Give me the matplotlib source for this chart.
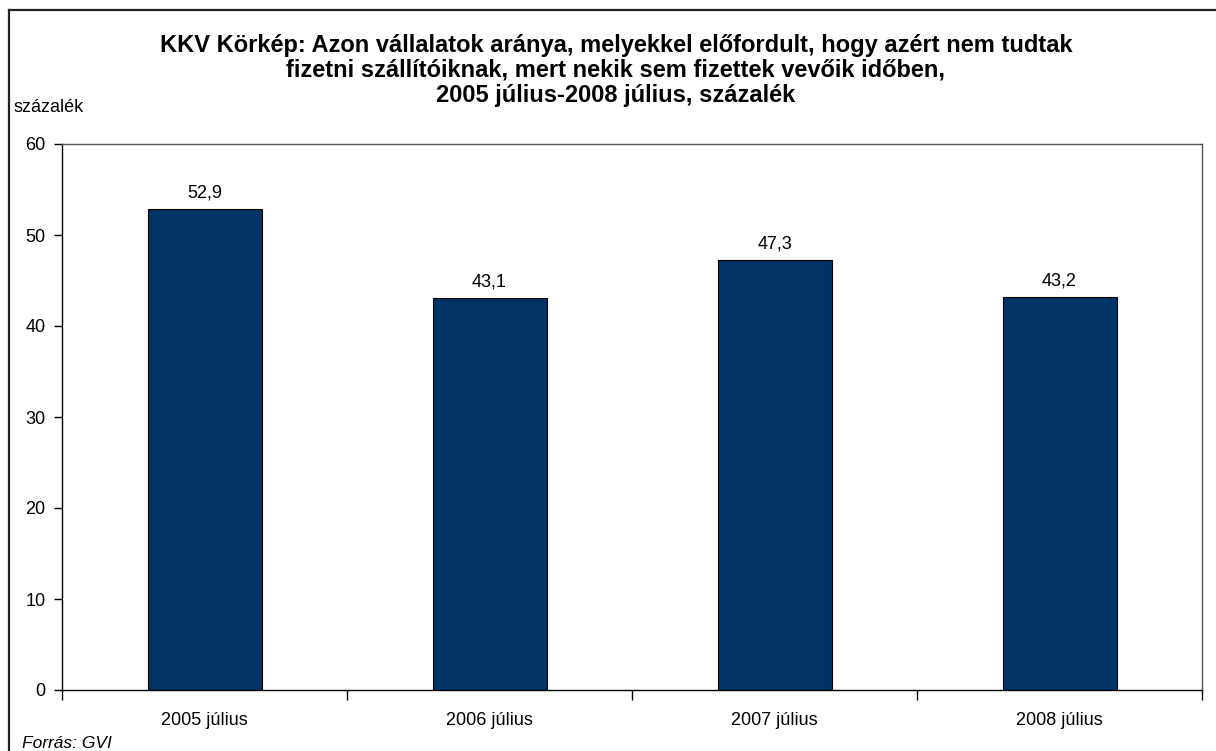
import matplotlib
matplotlib.use("Agg")
import matplotlib.pyplot as plt
from matplotlib.lines import Line2D

plt.rcParams['font.family'] = ['Liberation Sans', 'DejaVu Sans']

categories = ['2005 július', '2006 július', '2007 július', '2008 július']
values = [52.9, 43.1, 47.3, 43.2]
value_labels = ['52,9', '43,1', '47,3', '43,2']
yticks = [0, 10, 20, 30, 40, 50, 60]
title_lines = [
    'KKV Körkép: Azon vállalatok aránya, melyekkel előfordult, hogy azért nem tudtak',
    'fizetni szállítóiknak, mert nekik sem fizettek vevőik időben,',
    '2005 július-2008 július, százalék',
]

W, H = 1216, 751
fig = plt.figure(figsize=(W / 100, H / 100), dpi=100)
fig.patch.set_facecolor('white')

# outer chart frame (left and top edges are inside the canvas)
fig.add_artist(Line2D([8.5 / W, 8.5 / W], [0, 1 - 10 / H], transform=fig.transFigure,
                      color='#222222', linewidth=1.6))
fig.add_artist(Line2D([8.5 / W, 1], [1 - 10 / H, 1 - 10 / H], transform=fig.transFigure,
                      color='#222222', linewidth=1.6))

left, right, top, bottom = 62, 1202, 144, 690
ax = fig.add_axes([left / W, 1 - bottom / H, (right - left) / W, (bottom - top) / H])

x = range(len(categories))
ax.bar(x, values, width=0.4, color='#003366', edgecolor='black', linewidth=0.8, zorder=2)
for xi, v, lab in zip(x, values, value_labels):
    ax.annotate(lab, (xi, v), xytext=(0, 8), textcoords='offset points',
                ha='center', va='baseline', fontsize=13)

ax.set_xlim(-0.5, len(categories) - 0.5)
ax.set_ylim(0, 60)
ax.set_yticks(yticks)
ax.set_yticklabels([str(t) for t in yticks], fontsize=13)
ax.set_xticks([i - 0.5 for i in range(len(categories) + 1)])
ax.set_xticklabels([])
ax.set_xticks(list(x), minor=True)
ax.set_xticklabels(categories, minor=True, fontsize=13)
ax.tick_params(axis='x', which='major', direction='out', length=7, width=1)
ax.tick_params(axis='x', which='minor', length=0, pad=16)
ax.tick_params(axis='y', direction='out', length=6, width=1, pad=6)
for name, s in ax.spines.items():
    s.set_linewidth(1.0)
    s.set_color('black' if name in ('left', 'bottom') else '#555555')

for i, line in enumerate(title_lines):
    fig.text(616 / W, 1 - (52 + 25 * i) / H, line, ha='center', va='baseline',
             fontsize=17, fontweight='bold')
fig.text(13 / W, 1 - 107 / H, 'százalék', ha='left', va='center', fontsize=13)
fig.text(22 / W, 1 - 743 / H, 'Forrás: GVI', ha='left', va='center', fontsize=12.5,
         style='italic')

fig.savefig('out.png', dpi=100)
